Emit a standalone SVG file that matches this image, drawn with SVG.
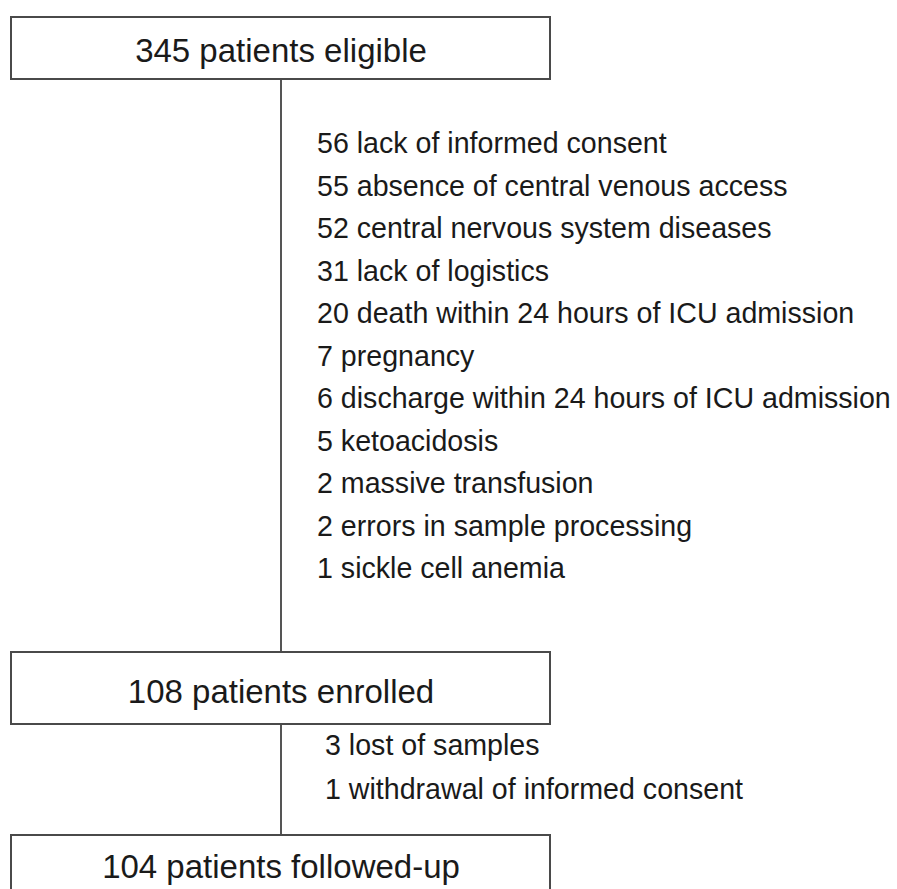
<svg xmlns="http://www.w3.org/2000/svg" width="897" height="889" viewBox="0 0 897 889">
<style>
.box{fill:#fff;stroke:#4a4a4a;stroke-width:2}
.conn{stroke:#555;stroke-width:2;fill:none}
.title{font-family:"Liberation Sans",Arial,sans-serif;font-size:33px;fill:#1a1a1a;text-anchor:middle}
.item{font-family:"Liberation Sans",Arial,sans-serif;font-size:28.6px;fill:#1a1a1a}
</style>
<rect width="897" height="889" fill="#fff"/>
<g id="connectors">
<line class="conn" x1="281" y1="79" x2="281" y2="652"/>
<line class="conn" x1="281" y1="724" x2="281" y2="835"/>
</g>
<g id="eligible">
<rect class="box" x="11" y="17" width="539" height="62"/>
<text class="title" x="281" y="62">345 patients eligible</text>
</g>
<g id="exclusions">
<text class="item" x="317" y="153">56 lack of informed consent</text>
<text class="item" x="317" y="195.5">55 absence of central venous access</text>
<text class="item" x="317" y="238">52 central nervous system diseases</text>
<text class="item" x="317" y="280.5">31 lack of logistics</text>
<text class="item" x="317" y="323">20 death within 24 hours of ICU admission</text>
<text class="item" x="317" y="365.5">7 pregnancy</text>
<text class="item" x="317" y="408">6 discharge within 24 hours of ICU admission</text>
<text class="item" x="317" y="450.5">5 ketoacidosis</text>
<text class="item" x="317" y="493">2 massive transfusion</text>
<text class="item" x="317" y="535.5">2 errors in sample processing</text>
<text class="item" x="317" y="578">1 sickle cell anemia</text>
</g>
<g id="enrolled">
<rect class="box" x="11" y="652" width="539" height="72"/>
<text class="title" x="281" y="703">108 patients enrolled</text>
</g>
<g id="losses">
<text class="item" x="325" y="755">3 lost of samples</text>
<text class="item" x="325" y="799">1 withdrawal of informed consent</text>
</g>
<g id="followed">
<rect class="box" x="11" y="835" width="539" height="80"/>
<text class="title" x="281" y="878">104 patients followed-up</text>
</g>
</svg>
